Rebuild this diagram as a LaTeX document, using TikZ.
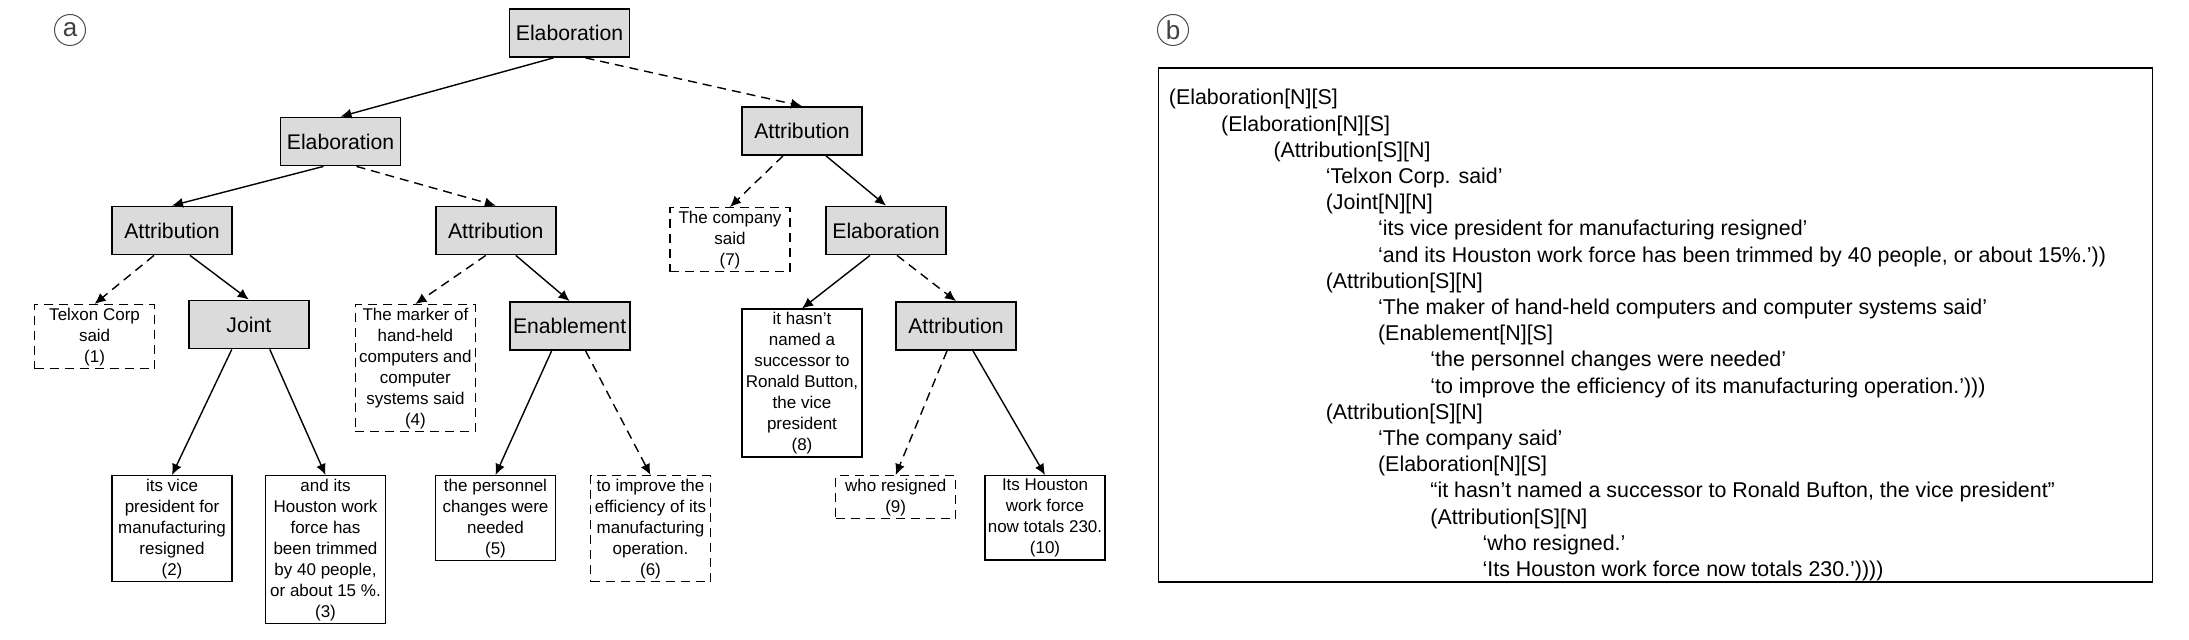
\documentclass[tikz,border=0pt]{standalone}
\usepackage{fontspec}
\setmainfont{Liberation Sans}
\usepackage{tikz}
\usetikzlibrary{arrows.meta,positioning,calc}
\newlength{\indstep}
\setlength{\indstep}{26.15pt}
\tikzset{
  rel/.style={draw, line width=0.9pt, fill=black!14, minimum width=60pt,
              minimum height=24pt, inner sep=0pt, font=\fontsize{10.6}{12.7}\selectfont},
  edu/.style={draw, line width=0.7pt, align=center, minimum width=60pt, anchor=north,
              inner xsep=1pt, inner ysep=1.5pt, font=\fontsize{8.5}{10.5}\selectfont},
  satedu/.style={edu, dash pattern=on 4.5pt off 3pt},
  nuc/.style={-{Latex[length=5.5pt, width=5pt]}, line width=0.7pt},
  sat/.style={nuc, dash pattern=on 4.5pt off 3pt},
  tag/.style={circle, draw=black!70, line width=0.5pt, minimum size=15.5pt, inner sep=0pt,
              text=black!75, font=\fontsize{13}{13}\selectfont},
}
\begin{document}
\begin{tikzpicture}[x=0.5pt, y=-0.5pt]
  \useasboundingbox (0,0) rectangle (2189,640);
  % (a) the tree
  \node[tag] (ta) at (70,30) {a};
  \node[rel] (e0) at (569.5,33) {Elaboration};
  \node[rel] (e1) at (340.5,141.5) {Elaboration};
  \node[rel] (a3) at (802,131) {Attribution};
  \node[rel] (a1) at (172,230.5) {Attribution};
  \node[rel] (a2) at (495.8,230.5) {Attribution};
  \node[rel] (e2) at (886,230.5) {Elaboration};
  \node[rel] (j1) at (248.8,324.5) {Joint};
  \node[rel] (en1) at (569.6,326) {Enablement};
  \node[rel] (a4) at (956,326) {Attribution};
  \node[satedu] (u1) at (94.6,304) {Telxon Corp\\said\\(1)};
  \node[edu] (u2) at (172,475) {its vice\\president for\\manufacturing\\resigned\\(2)};
  \node[edu] (u3) at (325.5,475) {and its\\Houston work\\force has\\been trimmed\\by 40 people,\\or about 15 \%.\\(3)};
  \node[satedu] (u4) at (415.4,304) {The marker of\\hand-held\\computers and\\computer\\systems said\\(4)};
  \node[edu] (u5) at (495.5,475) {the personnel\\changes were\\needed\\(5)};
  \node[satedu] (u6) at (650.5,475) {to improve the\\efficiency of its\\manufacturing\\operation.\\(6)};
  \node[satedu] (u7) at (730,207) {The company\\said\\(7)};
  \node[edu] (u8) at (802,308.5) {it hasn’t\\named a\\successor to\\Ronald Button,\\the vice\\president\\(8)};
  \node[satedu] (u9) at (895.7,475) {who resigned\\(9)};
  \node[edu] (u10) at (1045,475) {Its Houston\\work force\\now totals 230.\\(10)};
  \draw[nuc] ([xshift=-8pt]e0.south) -- (e1.north);
  \draw[sat] ([xshift=8pt]e0.south) -- (a3.north);
  \draw[nuc] ([xshift=-8.5pt]e1.south) -- (a1.north);
  \draw[sat] ([xshift=8pt]e1.south) -- (a2.north);
  \draw[sat] ([xshift=-9pt]a1.south) -- (u1.north);
  \draw[nuc] ([xshift=9pt]a1.south) -- (j1.north);
  \draw[sat] ([xshift=-5pt]a2.south) -- (u4.north);
  \draw[nuc] ([xshift=10pt]a2.south) -- (en1.north);
  \draw[nuc] ([xshift=-8.5pt]j1.south) -- (u2.north);
  \draw[nuc] ([xshift=10.5pt]j1.south) -- (u3.north);
  \draw[nuc] ([xshift=-9pt]en1.south) -- (u5.north);
  \draw[sat] ([xshift=8pt]en1.south) -- (u6.north);
  \draw[sat] ([xshift=-9.5pt]a3.south) -- (u7.north);
  \draw[nuc] ([xshift=12pt]a3.south) -- (e2.north);
  \draw[nuc] ([xshift=-8pt]e2.south) -- (u8.north);
  \draw[sat] ([xshift=5.5pt]e2.south) -- (a4.north);
  \draw[sat] ([xshift=-4.5pt]a4.south) -- (u9.north);
  \draw[nuc] ([xshift=8.5pt]a4.south) -- (u10.north);
  % (b) the bracketed form
  \node[tag] (tb) at (1173,30) {b};
  \node[draw, line width=0.8pt, minimum width=497pt, minimum height=257pt, inner sep=0pt,
        anchor=north west] (frame) at (1157.5,67) {};
  \node[anchor=north west, inner sep=0pt, align=left, font=\fontsize{10.7}{13.1}\selectfont]
    (brk) at ([xshift=5.5pt, yshift=-11pt]frame.north west)
    {(Elaboration[N][S]\\
     \hspace*{1\indstep}(Elaboration[N][S]\\
     \hspace*{2\indstep}(Attribution[S][N]\\
     \hspace*{3\indstep}‘Telxon Corp. said’\\
     \hspace*{3\indstep}(Joint[N][N]\\
     \hspace*{4\indstep}‘its vice president for manufacturing resigned’\\
     \hspace*{4\indstep}‘and its Houston work force has been trimmed by 40 people, or about 15\%.’))\\
     \hspace*{3\indstep}(Attribution[S][N]\\
     \hspace*{4\indstep}‘The maker of hand-held computers and computer systems said’\\
     \hspace*{4\indstep}(Enablement[N][S]\\
     \hspace*{5\indstep}‘the personnel changes were needed’\\
     \hspace*{5\indstep}‘to improve the efficiency of its manufacturing operation.’)))\\
     \hspace*{3\indstep}(Attribution[S][N]\\
     \hspace*{4\indstep}‘The company said’\\
     \hspace*{4\indstep}(Elaboration[N][S]\\
     \hspace*{5\indstep}“it hasn’t named a successor to Ronald Bufton, the vice president”\\
     \hspace*{5\indstep}(Attribution[S][N]\\
     \hspace*{6\indstep}‘who resigned.’\\
     \hspace*{6\indstep}‘Its Houston work force now totals 230.’))))};
\end{tikzpicture}
\end{document}
